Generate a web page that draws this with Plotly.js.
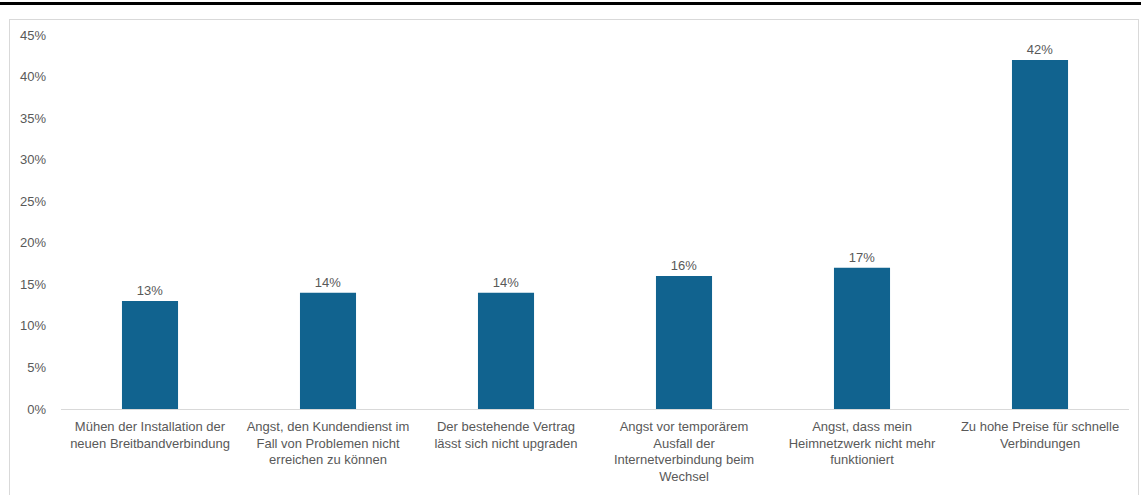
<!DOCTYPE html>
<html>
<head>
<meta charset="utf-8">
<script src="https://cdn.plot.ly/plotly-3.0.1.min.js"></script>
<style>
  html, body { margin: 0; padding: 0; background: #fff; }
  #wrap { position: relative; width: 1143px; height: 495px; overflow: hidden; }
  #topline { position: absolute; left: 0; top: 2px; width: 1141px; height: 3px; background: #000; }
  #frame { position: absolute; left: 9px; top: 19px; width: 1130px; height: 500px; border: 1px solid #d9d9d9; box-sizing: border-box; }
  #chart { position: absolute; left: 0; top: 0; width: 1143px; height: 495px; }
</style>
</head>
<body>
<div id="wrap">
  <div id="topline"></div>
  <div id="frame"></div>
  <div id="chart"></div>
</div>
<script>
const categories = [
  "Mühen der Installation der<br>neuen Breitbandverbindung",
  "Angst, den Kundendienst im<br>Fall von Problemen nicht<br>erreichen zu können",
  "Der bestehende Vertrag<br>lässt sich nicht upgraden",
  "Angst vor temporärem<br>Ausfall der<br>Internetverbindung beim<br>Wechsel",
  "Angst, dass mein<br>Heimnetzwerk nicht mehr<br>funktioniert",
  "Zu hohe Preise für schnelle<br>Verbindungen"
];
const values = [0.13, 0.14, 0.14, 0.16, 0.17, 0.42];
const labels = values.map(v => Math.round(v * 100) + "%");
const tickVals = [0, 0.05, 0.10, 0.15, 0.20, 0.25, 0.30, 0.35, 0.40, 0.45];
const tickText = ["0%", "5%", "10%", "15%", "20%", "25%", "30%", "35%", "40%", "45%"];

const font = { family: "Liberation Sans, Arial, sans-serif", size: 13, color: "#595959" };

Plotly.newPlot("chart", [{
  type: "bar",
  x: categories,
  y: values,
  text: labels,
  textposition: "outside",
  cliponaxis: false,
  textfont: font,
  marker: { color: "#11638f" },
  hoverinfo: "skip"
}], {
  width: 1143, height: 495,
  margin: { l: 61, r: 14, t: 35, b: 86, pad: 0 },
  paper_bgcolor: "rgba(0,0,0,0)",
  plot_bgcolor: "rgba(0,0,0,0)",
  bargap: 0.685,
  showlegend: false,
  font: font,
  xaxis: {
    type: "category",
    showgrid: false,
    showline: true,
    linecolor: "#d9d9d9",
    linewidth: 1,
    ticks: "",
    ticklabelstandoff: 5,
    tickfont: font,
    tickangle: 0,
    automargin: false
  },
  yaxis: {
    range: [0, 0.45],
    tickvals: tickVals,
    ticktext: tickText,
    showgrid: false,
    zeroline: false,
    showline: false,
    ticks: "",
    ticklabelstandoff: 14,
    tickfont: font,
    automargin: false
  }
}, { staticPlot: true, displayModeBar: false });
</script>
</body>
</html>
